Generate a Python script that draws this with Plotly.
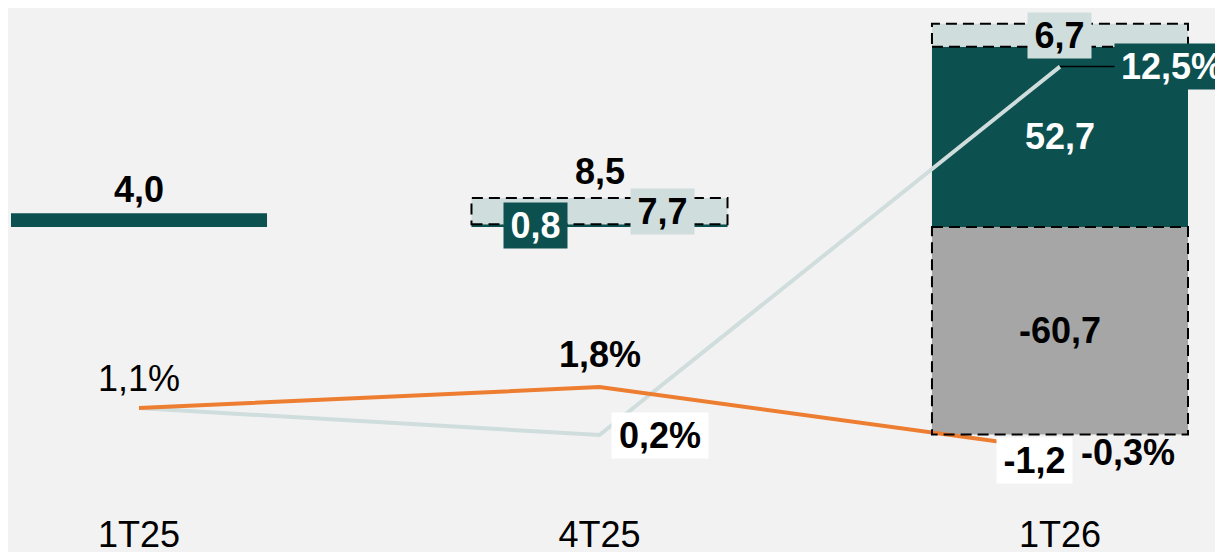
import plotly.graph_objects as go

# ----------------------------------------------------------------------------------------------------------------------
# data

categories = ["1T25", "4T25", "1T26"]

dark_vals = [4.0, 0.8, 52.7]
light_vals = [None, 7.7, 6.7]
grey_vals = [None, None, -60.7]
totals = [4.0, 8.5, -1.2]

orange_pct = [1.1, 1.8, -0.3]
light_pct = [1.1, 0.2, 12.5]

# ----------------------------------------------------------------------------------------------------------------------

DARK = "#0C5150"
LIGHT = "#CFDDDC"
GREY = "#A6A6A6"
ORANGE = "#ED7D31"
BG = "#F2F2F2"
FONT = "Liberation Sans"
BAR_W = 0.556

fmt = lambda v, pct=False: f"{v:.1f}".replace(".", ",") + ("%" if pct else "")

x = list(range(len(categories)))

fig = go.Figure()

for vals, color in [(dark_vals, DARK), (light_vals, LIGHT), (grey_vals, GREY)]:
    fig.add_trace(go.Bar(
        x=x, y=vals, width=BAR_W,
        marker=dict(color=color, line=dict(width=0)),
        hoverinfo="skip",
    ))

fig.add_trace(go.Scatter(
    x=x, y=light_pct, yaxis="y2", mode="lines",
    line=dict(color=LIGHT, width=4),
))
fig.add_trace(go.Scatter(
    x=x, y=orange_pct, yaxis="y2", mode="lines",
    line=dict(color=ORANGE, width=4),
))

# dashed outlines round the light and grey segments
shapes = []
for i in x:
    base = dark_vals[i] or 0
    if light_vals[i] is not None:
        shapes.append(dict(
            type="rect", xref="x", yref="y",
            x0=i - BAR_W / 2, x1=i + BAR_W / 2, y0=base, y1=base + light_vals[i],
            line=dict(color="black", width=2, dash="11px,6px"), layer="above",
        ))
    if grey_vals[i] is not None:
        shapes.append(dict(
            type="rect", xref="x", yref="y",
            x0=i - BAR_W / 2, x1=i + BAR_W / 2, y0=0, y1=grey_vals[i],
            line=dict(color="black", width=2, dash="11px,6px"), layer="above",
        ))

def lab(text, xi, yv, yref="y", color="black", bg=None, dx=0, dy=0, bold=True, **kw):
    return dict(
        text=text, x=xi, y=yv, xref="x", yref=yref,
        showarrow=kw.pop("showarrow", False), xshift=dx, yshift=dy,
        font=dict(family=FONT, size=36, color=color, weight="bold" if bold else "normal"),
        bgcolor=bg, borderpad=2, **kw,
    )

annotations = [
    lab(fmt(dark_vals[0]), 0, dark_vals[0], dy=24),
    lab(fmt(dark_vals[1]), 1, dark_vals[1] / 2, color="white", bg=DARK, dx=-64, width=59),
    lab(fmt(light_vals[1]), 1, dark_vals[1] + light_vals[1] / 2, bg=LIGHT, dx=63, width=59),
    lab(fmt(totals[1]), 1, totals[1], dy=26),
    lab(fmt(light_vals[2]), 2, dark_vals[2] + light_vals[2] / 2, bg=LIGHT, width=59),
    lab(fmt(dark_vals[2]), 2, dark_vals[2] / 2, color="white"),
    lab(fmt(grey_vals[2]), 2, grey_vals[2] / 2),
    lab(fmt(totals[2]), 2, grey_vals[2], bg="white", dx=-25, dy=-26, width=71),
    lab(fmt(orange_pct[0], True), 0, orange_pct[0], yref="y2", dy=30, bold=False),
    lab(fmt(orange_pct[1], True), 1, orange_pct[1], yref="y2", dy=33),
    lab(fmt(orange_pct[2], True), 2, orange_pct[2], yref="y2", dx=68, dy=-2),
    lab(fmt(light_pct[1], True), 1, light_pct[1], yref="y2", bg="white", dx=60, width=92),
    lab(fmt(light_pct[2], True), 2, light_pct[2], yref="y2", color="white", bg=DARK,
        showarrow=True, ax=112, ay=0, arrowhead=0, arrowwidth=1.5, arrowcolor="black", width=110),
]

# page has an 8px body margin, so the figure is 8px smaller and the ranges start 8px in
fig.update_layout(
    width=1215, height=544,
    barmode="relative",
    showlegend=False,
    paper_bgcolor=BG, plot_bgcolor=BG,
    margin=dict(l=0, r=0, t=0, b=34, autoexpand=False),
    font=dict(family=FONT, color="black"),
    shapes=shapes,
    annotations=annotations,
    xaxis=dict(
        range=[-0.2845, 2.354],
        tickmode="array", tickvals=x, ticktext=categories,
        tickfont=dict(family=FONT, size=36, color="black"),
        showgrid=False, zeroline=False, showline=False, ticks="",
        automargin=False, ticklabelstandoff=-8,
    ),
    yaxis=dict(range=[-85.09, 64.04], visible=False, showgrid=False, zeroline=False),
    yaxis2=dict(range=[-2.57, 14.457], overlaying="y", visible=False, showgrid=False, zeroline=False),
)

fig.write_html("out.html")
